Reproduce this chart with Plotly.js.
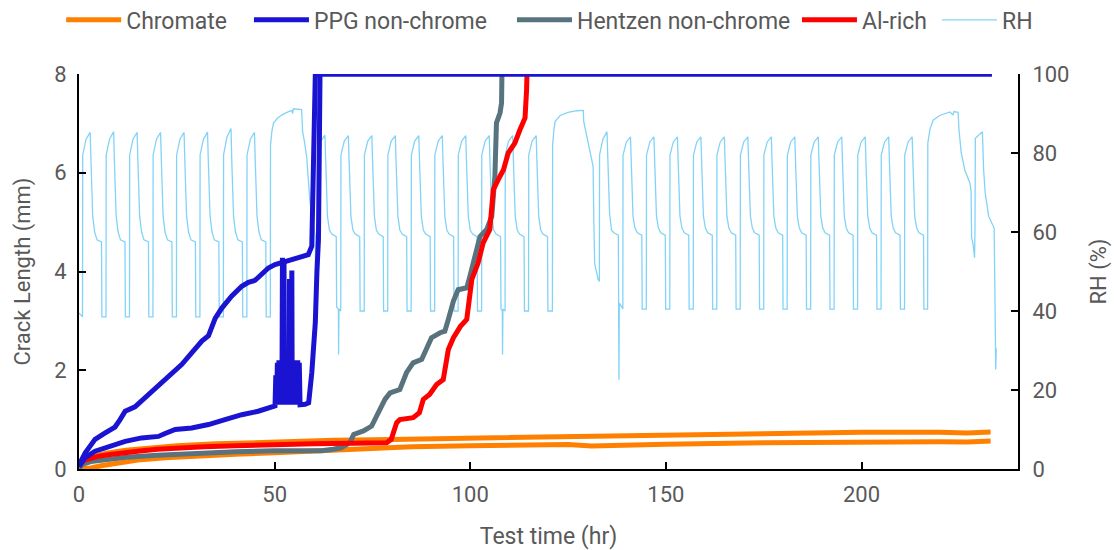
<!DOCTYPE html>
<html><head><meta charset="utf-8">
<script src="https://cdn.plot.ly/plotly-3.0.1.min.js"></script>
<style>html,body{margin:0;padding:0;background:#fff}#chart{width:1117px;height:550px}</style>
</head><body><div id="chart"></div>
<script>
const seriesNames = ['Chromate', 'PPG non-chrome', 'Hentzen non-chrome', 'Al-rich', 'RH'];
const xTicks = [0, 50, 100, 150, 200];
const crackTicks = [0, 2, 4, 6, 8];
const rhTicks = [0, 20, 40, 60, 80, 100];

// Chromate, two specimens (mm)
const chromateA_t = [0, 1, 3, 7, 12, 18, 25, 35, 50, 65, 80, 100, 123, 150, 175, 200, 220, 227, 233];
const chromateA_v = [0.03, 0.15, 0.24, 0.32, 0.38, 0.43, 0.47, 0.51, 0.55, 0.58, 0.6, 0.625, 0.665, 0.695, 0.725, 0.745, 0.745, 0.73, 0.75];
const chromateB_t = [0, 3, 6, 10, 15, 22, 30, 40, 50, 60, 68, 75, 85, 100, 115, 125, 131, 140, 150, 175, 200, 220, 227, 233];
const chromateB_v = [0, 0.02, 0.07, 0.13, 0.18, 0.23, 0.27, 0.3, 0.33, 0.36, 0.4, 0.43, 0.45, 0.47, 0.49, 0.495, 0.465, 0.49, 0.5, 0.53, 0.55, 0.55, 0.545, 0.565];

// PPG non-chrome, two specimens (mm)
const ppgA_t = [0, 0.3, 1.6, 4.1, 6.7, 8.5, 9.2, 10.5, 11.8, 14.3, 16, 17.7, 20.3, 22, 23.7, 26.3, 28.8, 31.4, 33.1, 34.8, 36.5, 39, 41.6, 43.3, 45, 46.7, 48.4, 50.1, 54.4, 58.6, 59.5, 59.9, 60.2, 60.4, 233.3];
const ppgA_v = [0.1, 0.13, 0.33, 0.6, 0.73, 0.8, 0.85, 1.0, 1.17, 1.26, 1.38, 1.51, 1.68, 1.8, 1.95, 2.12, 2.35, 2.59, 2.7, 3.05, 3.26, 3.5, 3.7, 3.78, 3.82, 3.94, 4.07, 4.14, 4.24, 4.34, 4.51, 6, 7.68, 8, 8];
const ppgB_t = [0, 1.56, 4.1, 7.5, 11.8, 16, 20.3, 22, 24.6, 28.8, 33.1, 37.3, 41.6, 45.8, 50.0,
  50.1, 50.3, 50.5, 50.7, 50.9, 51.1, 51.3, 51.5, 51.7, 51.9, 52.0, 52.1, 52.3, 52.4, 52.5, 52.7, 52.9, 53.1, 53.3, 53.5, 53.7, 53.8, 53.9, 54.1, 54.3, 54.4, 54.5, 54.7, 54.9, 55.1, 55.3, 55.5, 55.7, 55.9, 56.1, 56.3, 56.5,
  57.8, 58.7, 59.5, 60.4, 60.8, 61.2, 61.6, 233.3];
const ppgB_v = [0.05, 0.23, 0.36, 0.46, 0.56, 0.63, 0.66, 0.72, 0.8, 0.83, 0.9, 1.0, 1.1, 1.17, 1.28,
  1.28, 1.9, 1.3, 2.15, 1.3, 2.2, 1.3, 2.2, 1.32, 2.2, 4.28, 1.32, 2.2, 4.2, 1.3, 2.2, 1.32, 2.2, 1.3, 2.2, 1.32, 3.85, 1.3, 2.2, 1.32, 4.02, 1.3, 2.2, 1.32, 2.2, 1.3, 2.2, 1.32, 2.2, 1.3, 2.15, 1.3,
  1.31, 1.34, 1.95, 2.97, 3.97, 4.65, 8, 8];

// Hentzen non-chrome (mm)
const hentzen_t = [0, 1, 3, 7, 12, 20, 30, 40, 50, 60, 62, 65, 67, 68.5, 69.3, 70.2, 72.7, 74.8, 76.5, 78.2, 79.5, 82.0, 83.7, 85.4, 87.6, 88.9, 90.1, 92.3, 93.5, 94.4, 95.7, 96.9, 99.1, 99.9, 101.2, 102.5, 104.2, 105.5, 106.3, 106.7, 107.6, 108.0, 108.1];
const hentzen_v = [0.02, 0.1, 0.15, 0.2, 0.24, 0.28, 0.32, 0.35, 0.37, 0.38, 0.37, 0.4, 0.43, 0.5, 0.55, 0.7, 0.77, 0.87, 1.14, 1.41, 1.54, 1.61, 1.95, 2.15, 2.22, 2.42, 2.66, 2.76, 2.79, 3.03, 3.4, 3.63, 3.67, 3.9, 4.31, 4.71, 4.85, 5.12, 5.93, 7.01, 7.21, 7.41, 8];

// Al-rich (mm)
const alRich_t = [0, 0.5, 1.5, 3, 5, 7.5, 11, 15, 20, 25, 32, 40, 50, 60, 70, 78.6, 79.8, 80.6, 81.2, 82.0, 85.4, 87.0, 88.0, 89.6, 91.4, 93.1, 93.8, 94.4, 95.7, 97.5, 99.1, 99.5, 100.4, 102.0, 103.3, 105.0, 105.9, 107.6, 108.5, 109.7, 111.4, 112.7, 114.0, 114.4, 114.5];
const alRich_v = [0.05, 0.12, 0.18, 0.22, 0.26, 0.29, 0.33, 0.36, 0.4, 0.43, 0.45, 0.47, 0.5, 0.51, 0.52, 0.53, 0.6, 0.8, 0.94, 1.0, 1.04, 1.14, 1.41, 1.51, 1.71, 1.81, 2.1, 2.42, 2.66, 2.89, 3.03, 3.23, 3.84, 4.17, 4.58, 4.85, 5.66, 5.93, 6.06, 6.4, 6.6, 6.87, 7.11, 7.68, 8];

// Relative humidity (%)
const rhTime = [
  0, 0.85,
  0.9, 0.95, 1.8, 2.85, 3.05, 3.25, 3.5, 4.0, 4.6, 5.75, 5.85,
  6.9, 6.95, 7.8, 8.85, 9.05, 9.25, 9.5, 10.0, 10.6, 11.75, 11.85,
  12.9, 12.95, 13.8, 14.85, 15.05, 15.25, 15.5, 16.0, 16.6, 17.75, 17.85,
  18.9, 18.95, 19.8, 20.85, 21.05, 21.25, 21.5, 22.0, 22.6, 23.75, 23.85,
  24.9, 24.95, 25.8, 26.85, 27.05, 27.25, 27.5, 28.0, 28.6, 29.75, 29.85,
  30.9, 30.95, 31.8, 32.85, 33.05, 33.25, 33.5, 34.0, 34.6, 35.75, 35.85,
  36.9, 36.95, 37.8, 38.85, 39.05, 39.25, 39.5, 40.0, 40.6, 41.75, 41.85,
  42.9, 42.95, 43.8, 44.85, 45.05, 45.25, 45.5, 46.0, 46.6, 47.75, 47.85,
  48.9, 48.95, 49.3, 49.7, 50.7, 51.8, 53.0, 54.4, 54.6, 54.8, 56.9, 57.15, 57.6, 58.2, 58.7, 59.0, 59.5, 60.0, 60.4, 60.5,
  60.9, 60.95, 61.8, 62.85, 63.05, 63.25, 63.5, 64.0, 64.6, 65.75, 65.85, 66.3, 66.35, 66.45,
  66.9, 66.95, 67.8, 68.85, 69.05, 69.25, 69.5, 70.0, 70.6, 71.75, 71.85,
  72.9, 72.95, 73.8, 74.85, 75.05, 75.25, 75.5, 76.0, 76.6, 77.75, 77.85,
  78.9, 78.95, 79.8, 80.85, 81.05, 81.25, 81.5, 82.0, 82.6, 83.75, 83.85,
  84.9, 84.95, 85.8, 86.85, 87.05, 87.25, 87.5, 88.0, 88.6, 89.75, 89.85,
  90.9, 90.95, 91.8, 92.85, 93.05, 93.25, 93.5, 94.0, 94.6, 95.75, 95.85,
  96.9, 96.95, 97.8, 98.85, 99.05, 99.25, 99.5, 100.0, 100.6, 101.75, 101.85,
  102.9, 102.95, 103.8, 104.85, 105.05, 105.25, 105.5, 106.0, 106.6, 107.75, 107.85, 108.2, 108.25, 108.35,
  108.9, 108.95, 109.8, 110.85, 111.05, 111.25, 111.5, 112.0, 112.6, 113.75, 113.85,
  114.9, 114.95, 115.8, 116.85, 117.05, 117.25, 117.5, 118.0, 118.6, 119.75, 119.85,
  121.0, 121.05, 121.4, 121.7, 123.0, 125.0, 127.2, 128.9, 129.0, 129.6, 130.4, 131.4, 131.6, 131.8, 132.7, 132.95,
  133.0, 133.05, 133.9, 134.95, 135.15, 135.35, 135.6, 136.1, 136.7, 137.85, 137.9, 138.0, 138.1, 138.6,
  139.0, 139.05, 139.9, 140.95, 141.15, 141.35, 141.6, 142.1, 142.7, 143.85, 143.95,
  145.0, 145.05, 145.9, 146.95, 147.15, 147.35, 147.6, 148.1, 148.7, 149.85, 149.95,
  151.0, 151.05, 151.9, 152.95, 153.15, 153.35, 153.6, 154.1, 154.7, 155.85, 155.95,
  157.0, 157.05, 157.9, 158.95, 159.15, 159.35, 159.6, 160.1, 160.7, 161.85, 161.95,
  163.0, 163.05, 163.9, 164.95, 165.15, 165.35, 165.6, 166.1, 166.7, 167.85, 167.95,
  169.0, 169.05, 169.9, 170.95, 171.15, 171.35, 171.6, 172.1, 172.7, 173.85, 173.95,
  175.0, 175.05, 175.9, 176.95, 177.15, 177.35, 177.6, 178.1, 178.7, 179.85, 179.95,
  181.0, 181.05, 181.9, 182.95, 183.15, 183.35, 183.6, 184.1, 184.7, 185.85, 185.95,
  187.0, 187.05, 187.9, 188.95, 189.15, 189.35, 189.6, 190.1, 190.7, 191.85, 191.95,
  193.0, 193.05, 193.9, 194.95, 195.15, 195.35, 195.6, 196.1, 196.7, 197.85, 197.95,
  199.0, 199.05, 199.9, 200.95, 201.15, 201.35, 201.6, 202.1, 202.7, 203.85, 203.95,
  205.0, 205.05, 205.9, 206.95, 207.15, 207.35, 207.6, 208.1, 208.7, 209.85, 209.95,
  211.0, 211.05, 211.9, 212.95, 213.15, 213.35, 213.6, 214.1, 214.7, 215.85, 215.95,
  216.9, 216.95, 217.5, 218.3, 220.0, 222.6, 223.4, 223.6, 224.7, 224.9, 225.5, 226.4, 227.7, 228.0, 228.15, 228.5, 228.9, 229.0, 229.1, 230.0, 230.9, 231.2, 231.6, 232.5, 233.2, 233.9, 234.1, 234.3, 234.45
];
const rhValue = [
  39.5, 38.5,
  38.5, 79.5, 83.5, 85.2, 78, 70, 64, 60, 58, 57.5, 38.5,
  38.5, 79.5, 83.5, 85.4, 78, 70, 64, 60, 58, 57.5, 38.5,
  38.5, 79.5, 83.5, 85.2, 78, 70, 64, 60, 58, 57.5, 38.5,
  38.5, 79.5, 83.5, 85.2, 78, 70, 64, 60, 58, 57.5, 38.5,
  38.5, 79.5, 83.5, 85.2, 78, 70, 64, 60, 58, 57.5, 38.5,
  38.5, 79.5, 83.5, 85.3, 78, 70, 64, 60, 58, 57.5, 38.5,
  38.5, 79.5, 84, 86.2, 78, 70, 64, 60, 58, 57.5, 38.5,
  38.5, 79.5, 83.5, 85.2, 78, 70, 64, 60, 58, 57.5, 38.5,
  38.5, 82, 85.5, 87.5, 88.8, 89.6, 90.2, 90.8, 90.0, 91.2, 91.0, 85.4, 83, 79, 72, 68, 64, 60.5, 59, 40,
  40, 79.5, 83, 84.5, 77.5, 69.5, 64, 60.5, 59.5, 58.8, 41, 40.5, 29, 40.5,
  40, 79.5, 83, 84.4, 77.5, 69.5, 64, 60.5, 59.5, 58.8, 40,
  40, 79.5, 83, 84.4, 77.5, 69.5, 64, 60.5, 59.5, 58.8, 40,
  40, 79.5, 83, 84.4, 77.5, 69.5, 64, 60.5, 59.5, 58.8, 40,
  40, 79.5, 83, 84.4, 77.5, 69.5, 64, 60.5, 59.5, 58.8, 40,
  40, 79.5, 83, 84.4, 77.5, 69.5, 64, 60.5, 59.5, 58.8, 40,
  40, 79.5, 83, 84.4, 77.5, 69.5, 64, 60.5, 59.5, 58.8, 40,
  40, 79.5, 83, 84.4, 77.5, 69.5, 64, 60.5, 59.5, 58.8, 40.5, 40, 29, 40.5,
  40, 79.5, 83, 84.4, 77.5, 69.5, 64, 60.5, 59.5, 58.8, 40,
  40, 79.5, 83, 84.4, 77.5, 69.5, 64, 60.5, 59.5, 58.8, 40,
  40, 82, 86, 88, 89.5, 90.3, 90.7, 90.8, 88, 85, 81.6, 76.6, 62, 52, 48, 47.5,
  47.5, 79.5, 83.5, 85.4, 77.5, 69.5, 64.8, 60.5, 59.8, 59.2, 35, 22.6, 42, 41,
  40.5, 79.5, 82.8, 84.1, 77.5, 69.5, 64, 61, 59.8, 59.2, 40.5,
  40.5, 79.5, 82.8, 84.1, 77.5, 69.5, 64, 61, 59.8, 59.2, 40.5,
  40.5, 79.5, 82.8, 84.1, 77.5, 69.5, 64, 61, 59.8, 59.2, 40.5,
  40.5, 79.5, 82.8, 84.1, 77.5, 69.5, 64, 61, 59.8, 59.2, 40.5,
  40.5, 79.5, 82.8, 84.1, 77.5, 69.5, 64, 61, 59.8, 59.2, 40.5,
  40.5, 79.5, 82.8, 84.1, 77.5, 69.5, 64, 61, 59.8, 59.2, 40.5,
  40.5, 79.5, 82.8, 84.1, 77.5, 69.5, 64, 61, 59.8, 59.2, 40.5,
  40.5, 79.5, 82.8, 84.1, 77.5, 69.5, 64, 61, 59.8, 59.2, 40.5,
  40.5, 79.5, 82.8, 84.1, 77.5, 69.5, 64, 61, 59.8, 59.2, 40.5,
  40.5, 79.5, 82.8, 84.1, 77.5, 69.5, 64, 61, 59.8, 59.2, 40.5,
  40.5, 79.5, 82.8, 84.1, 77.5, 69.5, 64, 61, 59.8, 59.2, 40.5,
  40.5, 79.5, 82.8, 84.1, 77.5, 69.5, 64, 61, 59.8, 59.2, 40.5,
  40.5, 79.5, 82.8, 84.1, 77.5, 69.5, 64, 61, 59.8, 59.2, 40.5,
  40.5, 82.5, 86, 88.3, 89.5, 90.4, 89.6, 90.5, 90.3, 86, 80, 75.7, 72.4, 70.5, 58.5, 57, 53.5, 60, 83.7, 84.6, 85.4, 76, 70, 64, 62.3, 61, 45, 25.2, 30.5
];

const colors = {chromate: '#ff8000', ppg: '#1a14d2', hentzen: '#58737d', alrich: '#ff0000', rh: '#83d3f7'};
const crackW = 5;

function crackTrace(t, v, name, color, legendId, show) {
  return {x: t, y: v, type: 'scatter', mode: 'lines', name: name, yaxis: 'y2',
    line: {color: color, width: crackW, shape: 'linear'}, showlegend: show, legend: legendId, hoverinfo: 'skip'};
}

const traces = [
  {x: rhTime, y: rhValue, type: 'scatter', mode: 'lines', name: seriesNames[4], yaxis: 'y',
    line: {color: colors.rh, width: 1.3}, legend: 'legend5', showlegend: true, hoverinfo: 'skip'},
  crackTrace(chromateA_t, chromateA_v, seriesNames[0], colors.chromate, 'legend', true),
  crackTrace(chromateB_t, chromateB_v, seriesNames[0], colors.chromate, 'legend', false),
  crackTrace(hentzen_t, hentzen_v, seriesNames[2], colors.hentzen, 'legend3', true),
  crackTrace(alRich_t, alRich_v, seriesNames[3], colors.alrich, 'legend4', true),
  crackTrace(ppgA_t, ppgA_v, seriesNames[1], colors.ppg, 'legend2', true),
  crackTrace(ppgB_t, ppgB_v, seriesNames[1], colors.ppg, 'legend2', false)
];

const txt = '#595959';
const legendBase = {orientation: 'h', xanchor: 'left', yanchor: 'middle', y: 1.137, itemwidth: 55,
  font: {size: 23, color: txt}, bgcolor: 'rgba(0,0,0,0)', borderwidth: 0};
const axisBase = {showline: true, linecolor: '#000', linewidth: 2, ticks: 'inside', ticklen: 7,
  tickwidth: 2, tickcolor: '#000', showgrid: false, zeroline: false, automargin: false,
  tickfont: {size: 22, color: txt}};

const layout = {
  width: 1117, height: 550,
  margin: {l: 79, r: 99, t: 74, b: 81, pad: 0, autoexpand: false},
  paper_bgcolor: '#fff', plot_bgcolor: '#fff',
  font: {family: 'Roboto, "Open Sans", Arial, sans-serif', size: 22, color: txt},
  showlegend: true,
  xaxis: Object.assign({}, axisBase, {range: [0, 240], tickvals: xTicks, ticklabelstandoff: 5,
    title: {text: 'Test time (hr)', font: {size: 23, color: txt}, standoff: 22}}),
  yaxis: Object.assign({}, axisBase, {side: 'right', range: [0, 100], tickvals: rhTicks, ticklabelstandoff: 8,
    title: {text: 'RH (%)', font: {size: 22, color: txt}, standoff: 22}}),
  yaxis2: Object.assign({}, axisBase, {side: 'left', overlaying: 'y', range: [0, 8], tickvals: crackTicks, ticklabelstandoff: 6,
    title: {text: 'Crack Length (mm)', font: {size: 22, color: txt}, standoff: 18}}),
  legend: Object.assign({}, legendBase, {x: -0.019}),
  legend2: Object.assign({}, legendBase, {x: 0.181}),
  legend3: Object.assign({}, legendBase, {x: 0.4611}),
  legend4: Object.assign({}, legendBase, {x: 0.7646}),
  legend5: Object.assign({}, legendBase, {x: 0.9137})
};

Plotly.newPlot('chart', traces, layout, {displayModeBar: false, staticPlot: true});
</script>
</body></html>
